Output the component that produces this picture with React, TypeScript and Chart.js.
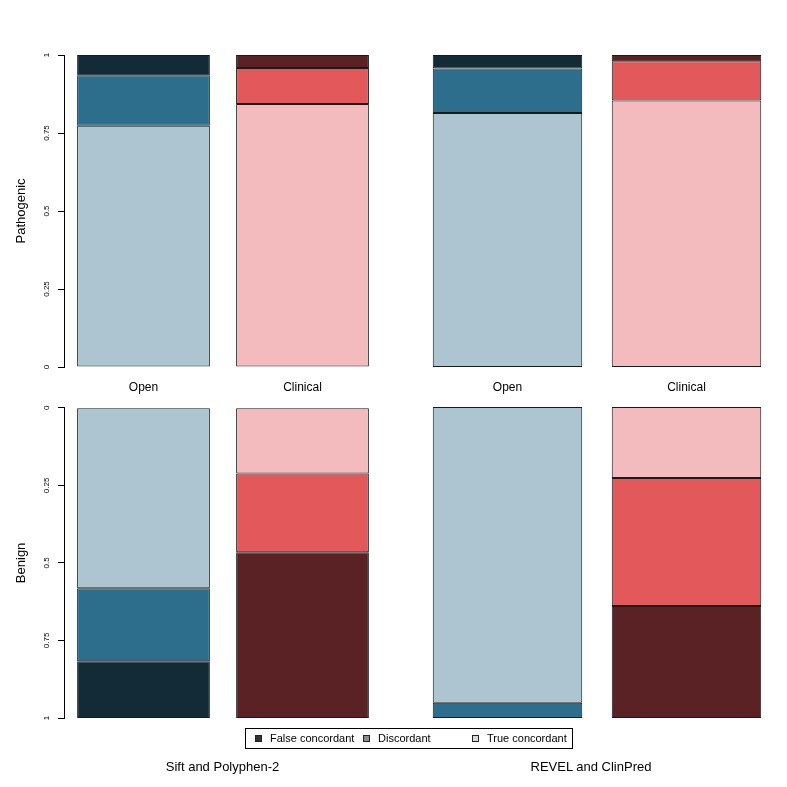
import React, { useEffect, useRef } from "react";
import { Chart, registerables } from "chart.js";

Chart.register(...registerables);

// ---------- data ----------
const categories = ["Open", "Clinical"];
const groupNames = ["Sift and Polyphen-2", "REVEL and ClinPred"];
const seriesNames = ["True concordant", "Discordant", "False concordant"];
const panelTitles = ["Pathogenic", "Benign"];
const tickValues = [0, 0.25, 0.5, 0.75, 1];
const tickLabels = ["0", "0.25", "0.5", "0.75", "1"];

// Pathogenic (Open, Clinical)
const siftPathTrue = [0.773, 0.843];
const siftPathDisc = [0.162, 0.115];
const siftPathFalse = [0.065, 0.042];
const revelPathTrue = [0.814, 0.854];
const revelPathDisc = [0.143, 0.126];
const revelPathFalse = [0.043, 0.02];

// Benign (Open, Clinical)
const siftBenTrue = [0.582, 0.212];
const siftBenDisc = [0.235, 0.254];
const siftBenFalse = [0.183, 0.534];
const revelBenTrue = [0.951, 0.228];
const revelBenDisc = [0.049, 0.412];
const revelBenFalse = [0.0, 0.36];

// ---------- styles ----------
const FONT = "'Liberation Sans', Arial, Helvetica, sans-serif";
const openColors = ["#adc5d0", "#2c6e8c", "#132b37"];
const clinicalColors = ["#f3bbbd", "#e2585b", "#5a2224"];
const legendSwatches = ["#333333", "#8c8c8c", "#d9d9d9"];

Chart.defaults.font.family = FONT;
Chart.defaults.color = "#000";

type Box = { left: number; top: number; width: number; height: number };

type PanelProps = {
  values: number[][];
  showY: boolean;
  yTitle: string;
  reverse: boolean;
  showX: boolean;
  box: Box;
  padTop: number;
  padBottom: number;
  xAxisHeight: number;
  yAxisWidth: number;
};

function Panel(p: PanelProps) {
  const ref = useRef<HTMLCanvasElement | null>(null);
  useEffect(() => {
    if (!ref.current) return;
    const chart = new Chart(ref.current, {
      type: "bar",
      data: {
        labels: categories,
        datasets: seriesNames.map((name, i) => ({
          label: name,
          data: p.values[i],
          backgroundColor: [openColors[i], clinicalColors[i]],
          borderColor: "#1a1a1a",
          borderWidth: 1,
          borderSkipped: false,
          barPercentage: 0.835,
          categoryPercentage: 1,
        })),
      },
      options: {
        animation: false,
        responsive: false,
        maintainAspectRatio: false,
        layout: { padding: { top: p.padTop, bottom: p.padBottom, left: 0, right: 0 } },
        plugins: {
          legend: { display: false },
          tooltip: { enabled: false },
          title: { display: false },
        },
        scales: {
          x: {
            stacked: true,
            display: p.showX,
            grid: { display: false, drawTicks: false },
            border: { display: false },
            ticks: { font: { size: 12, family: FONT }, color: "#000", padding: 13 },
            afterFit: (s: any) => {
              s.height = p.xAxisHeight;
            },
          },
          y: {
            stacked: true,
            min: 0,
            max: 1,
            reverse: p.reverse,
            display: p.showY,
            afterBuildTicks: (s: any) => {
              s.ticks = tickValues.map((v) => ({ value: v }));
            },
            grid: {
              display: true,
              drawOnChartArea: false,
              drawTicks: true,
              tickLength: 6,
              color: "#000",
              lineWidth: 1,
            },
            border: { display: true, color: "#000", width: 1 },
            ticks: {
              font: { size: 8, family: FONT },
              color: "#000",
              minRotation: 90,
              maxRotation: 90,
              crossAlign: "center",
              padding: 3,
              autoSkip: false,
              callback: (_v: any, i: number) => tickLabels[i],
            },
            title: {
              display: true,
              text: p.yTitle,
              font: { size: 13, family: FONT },
              color: "#000",
              padding: { top: 14, bottom: 0 },
            },
            afterFit: (s: any) => {
              s.width = p.yAxisWidth;
            },
          },
        },
      } as any,
    });
    return () => chart.destroy();
  }, []);
  return (
    <canvas
      ref={ref}
      width={p.box.width}
      height={p.box.height}
      style={{
        position: "absolute",
        left: p.box.left,
        top: p.box.top,
        width: p.box.width,
        height: p.box.height,
      }}
    />
  );
}

export default function App() {
  const topLeft: Box = { left: 0, top: 0, width: 382, height: 400 };
  const topRight: Box = { left: 418, top: 0, width: 358, height: 400 };
  const botLeft: Box = { left: 0, top: 400, width: 382, height: 387 };
  const botRight: Box = { left: 418, top: 400, width: 358, height: 387 };

  const legendItems = [
    { swatch: 0, label: seriesNames[2], sx: 255, tx: 270 },
    { swatch: 1, label: seriesNames[1], sx: 363, tx: 378 },
    { swatch: 2, label: seriesNames[0], sx: 472, tx: 487 },
  ];

  return (
    <div
      style={{
        position: "absolute",
        left: 0,
        top: 0,
        width: 787,
        height: 787,
        background: "#fff",
        fontFamily: FONT,
        color: "#000",
        overflow: "hidden",
      }}
    >
      <Panel
        values={[siftPathTrue, siftPathDisc, siftPathFalse]}
        showY={true}
        yTitle={panelTitles[0]}
        reverse={false}
        showX={true}
        box={topLeft}
        padTop={55}
        padBottom={0}
        xAxisHeight={33}
        yAxisWidth={64}
      />
      <Panel
        values={[revelPathTrue, revelPathDisc, revelPathFalse]}
        showY={false}
        yTitle={panelTitles[0]}
        reverse={false}
        showX={true}
        box={topRight}
        padTop={55}
        padBottom={0}
        xAxisHeight={33}
        yAxisWidth={0}
      />
      <Panel
        values={[siftBenTrue, siftBenDisc, siftBenFalse]}
        showY={true}
        yTitle={panelTitles[1]}
        reverse={true}
        showX={false}
        box={botLeft}
        padTop={7}
        padBottom={69}
        xAxisHeight={0}
        yAxisWidth={64}
      />
      <Panel
        values={[revelBenTrue, revelBenDisc, revelBenFalse]}
        showY={false}
        yTitle={panelTitles[1]}
        reverse={true}
        showX={false}
        box={botRight}
        padTop={7}
        padBottom={69}
        xAxisHeight={0}
        yAxisWidth={0}
      />

      {/* legend */}
      <div
        style={{
          position: "absolute",
          left: 245,
          top: 728,
          width: 328,
          height: 21,
          border: "1px solid #000",
          boxSizing: "border-box",
        }}
      />
      {legendItems.map((it, i) => (
        <React.Fragment key={i}>
          <div
            style={{
              position: "absolute",
              left: it.sx,
              top: 735,
              width: 7,
              height: 7,
              boxSizing: "border-box",
              border: "1px solid #222",
              background: legendSwatches[it.swatch],
            }}
          />
          <div
            style={{
              position: "absolute",
              left: it.tx,
              top: 728,
              height: 21,
              lineHeight: "21px",
              fontSize: 11,
              whiteSpace: "nowrap",
            }}
          >
            {it.label}
          </div>
        </React.Fragment>
      ))}

      {/* group labels */}
      {groupNames.map((g, i) => (
        <div
          key={g}
          style={{
            position: "absolute",
            left: (i === 0 ? 222.5 : 591) - 150,
            top: 757,
            width: 300,
            height: 20,
            lineHeight: "20px",
            fontSize: 13,
            textAlign: "center",
            whiteSpace: "nowrap",
          }}
        >
          {g}
        </div>
      ))}
    </div>
  );
}
